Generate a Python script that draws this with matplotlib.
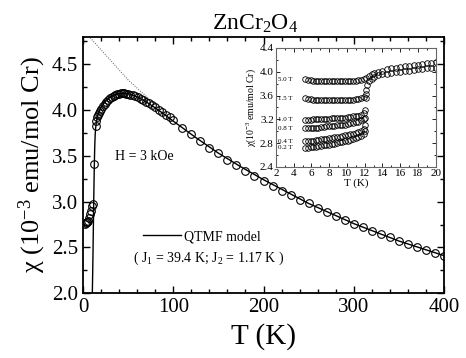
import matplotlib
matplotlib.use('Agg')
import matplotlib.pyplot as plt
from matplotlib.ticker import MultipleLocator

# main curve, H = 3 kOe
t_main = [2, 3, 4, 5, 6, 7, 8, 9, 10, 11, 12.5, 14, 15, 16, 17, 18, 19, 20, 22, 24,
          26, 28, 30, 32, 34, 36, 38, 40, 42, 44, 46, 48, 50, 52, 55, 58, 61, 64, 67, 70,
          73, 76, 80, 84, 88, 92, 96, 100, 110, 120, 130, 140, 150, 160, 170, 180, 190, 200,
          210, 220, 230, 240, 250, 260, 270, 280, 290, 300, 310, 320, 330, 340, 350, 360,
          370, 380, 390, 400]
chi_main = [2.76, 2.77, 2.78, 2.78, 2.79, 2.82, 2.86, 2.90, 2.95, 2.97, 3.41, 3.83, 3.88, 3.92, 3.95, 3.97, 3.99, 4.01, 4.04, 4.07,
            4.09, 4.11, 4.13, 4.145, 4.155, 4.165, 4.175, 4.18, 4.185, 4.185, 4.185, 4.18, 4.175, 4.17, 4.16, 4.15, 4.14, 4.125, 4.11, 4.09,
            4.075, 4.055, 4.03, 4.00, 3.975, 3.95, 3.92, 3.89, 3.81, 3.735, 3.66, 3.59, 3.53, 3.46, 3.40, 3.34, 3.28, 3.23,
            3.175, 3.12, 3.07, 3.02, 2.98, 2.93, 2.89, 2.84, 2.80, 2.76, 2.72, 2.68, 2.65, 2.61, 2.57, 2.54,
            2.51, 2.47, 2.44, 2.41]

# QTMF fit
t_fit = [10.3, 11, 11.5, 12, 12.5, 13, 13.5, 14, 15, 16, 18, 20, 25, 30, 35, 40, 45, 50, 60, 70,
         80, 90, 100, 125, 150, 175, 200, 250, 300, 350, 400]
chi_fit = [1.95, 2.35, 2.7, 3.05, 3.35, 3.58, 3.72, 3.80, 3.88, 3.93, 3.99, 4.03, 4.10, 4.14, 4.165, 4.18, 4.185, 4.18, 4.145, 4.09,
           4.025, 3.955, 3.88, 3.70, 3.53, 3.38, 3.24, 2.98, 2.76, 2.57, 2.41]

# Curie-Weiss line (dotted)
t_cw = [8, 20, 30, 40, 50, 60, 70, 80, 85]
chi_cw = [4.79, 4.66, 4.55, 4.44, 4.33, 4.24, 4.15, 4.06, 4.02]

# inset: low temperature, different fields
t_in = [5.3, 5.6, 5.9, 6.2, 6.5, 6.8, 7.1, 7.4, 7.7, 8.0, 8.3, 8.6, 8.9, 9.2, 9.5, 9.8,
        10.1, 10.4, 10.7, 11.0, 11.3, 11.6, 11.9]
chi_50 = [3.87, 3.86, 3.86, 3.85, 3.85, 3.85, 3.85, 3.85, 3.85, 3.85, 3.85, 3.85, 3.85, 3.85, 3.85, 3.85,
          3.85, 3.85, 3.85, 3.85, 3.86, 3.86, 3.88]
chi_15 = [3.55, 3.54, 3.54, 3.53, 3.53, 3.53, 3.53, 3.53, 3.53, 3.53, 3.53, 3.53, 3.53, 3.53, 3.53, 3.53,
          3.53, 3.53, 3.53, 3.54, 3.54, 3.56, 3.58]
chi_10 = [3.19, 3.19, 3.19, 3.20, 3.20, 3.20, 3.20, 3.21, 3.21, 3.21, 3.22, 3.22, 3.22, 3.23, 3.23, 3.23,
          3.24, 3.24, 3.25, 3.25, 3.26, 3.28, 3.30]
chi_08 = [3.05, 3.05, 3.05, 3.06, 3.06, 3.06, 3.07, 3.07, 3.08, 3.08, 3.09, 3.09, 3.10, 3.10, 3.11, 3.11,
          3.12, 3.13, 3.14, 3.15, 3.16, 3.18, 3.20]
chi_04 = [2.83, 2.83, 2.84, 2.84, 2.85, 2.85, 2.86, 2.87, 2.87, 2.88, 2.89, 2.90, 2.90, 2.91, 2.92, 2.93,
          2.94, 2.95, 2.96, 2.97, 2.99, 3.01, 3.04]
chi_02 = [2.72, 2.72, 2.73, 2.73, 2.74, 2.75, 2.75, 2.76, 2.77, 2.77, 2.78, 2.79, 2.80, 2.81, 2.82, 2.83,
          2.84, 2.85, 2.86, 2.88, 2.90, 2.92, 2.95]
field_labels = ['5.0 T', '1.5 T', '1.0 T', '0.8 T', '0.4 T', '0.2 T']

# merged part above the transition
t_up = [12.2, 12.5, 12.8, 13.1, 13.5, 14, 14.5, 15, 15.5, 16, 16.5, 17, 17.5, 18, 18.5, 19, 19.5, 20]
chi_up = [3.89, 3.93, 3.96, 3.98, 4.00, 4.02, 4.04, 4.06, 4.07, 4.08, 4.09, 4.10, 4.11, 4.12, 4.13, 4.14, 4.15, 4.16]
t_lo = [12.0, 12.0, 12.0, 12.0, 12.1, 12.1, 12.2, 12.3, 12.5, 12.8, 13.1, 13.5, 14, 14.5, 15, 15.5, 16, 16.5,
        17, 17.5, 18, 18.5, 19, 19.5, 20]
chi_lo = [3.00, 3.10, 3.22, 3.35, 3.55, 3.62, 3.70, 3.78, 3.84, 3.88, 3.91, 3.94, 3.96, 3.97, 3.98, 3.99, 4.00, 4.01,
          4.02, 4.03, 4.04, 4.05, 4.06, 4.06, 4.07]

plt.rcParams['font.family'] = 'Liberation Serif'
plt.rcParams['mathtext.fontset'] = 'custom'
plt.rcParams['mathtext.rm'] = 'Liberation Serif'
plt.rcParams['mathtext.it'] = 'Liberation Serif:italic'

fig = plt.figure(figsize=(4.66, 3.58), dpi=100)
ax = fig.add_axes([0.178, 0.181, 0.775, 0.716])

ax.plot(t_fit, chi_fit, color='black', lw=1.0, label='QTMF model')
ax.plot(t_cw, chi_cw, color='#555555', lw=0.7, ls=(0, (1, 1.5)))
ax.plot(t_main, chi_main, 'o', ms=5.5, mfc='none', mec='black', mew=0.8)

ax.set_xlim(0, 400)
ax.set_ylim(2.0, 4.8)
ax.xaxis.set_major_locator(MultipleLocator(100))
ax.xaxis.set_minor_locator(MultipleLocator(20))
ax.yaxis.set_major_locator(MultipleLocator(0.5))
ax.yaxis.set_minor_locator(MultipleLocator(0.25))
ax.tick_params(which='both', direction='in', top=True, right=True, width=1.0)
ax.tick_params(which='major', length=5, labelsize=15)
ax.tick_params(which='minor', length=3)
for s in ax.spines.values():
    s.set_linewidth(1.3)

ax.set_xlabel('T (K)', fontsize=21, labelpad=4)
ax.set_ylabel('χ (10$^{-3}$ emu/mol Cr)', fontsize=19, labelpad=3)
fig.text(0.547, 0.933, 'ZnCr$_2$O$_4$', ha='center', va='center', fontsize=17)

ax.text(36, 3.49, 'H = 3 kOe', fontsize=10, va='center')
ax.legend(loc='center left', bbox_to_anchor=(0.165, 0.221), frameon=False, fontsize=10,
          handlelength=2.8, handletextpad=0.2, borderpad=0, borderaxespad=0)
ax.text(55, 2.38, '( J$_1$ = 39.4 K; J$_2$ = 1.17 K )', fontsize=10, va='center')

# inset
ins = fig.add_axes([0.592, 0.534, 0.343, 0.332])
kw = dict(ls='none', marker='o', ms=4, mfc='none', mec='black', mew=0.6)
for c in [chi_50, chi_15, chi_10, chi_08, chi_04, chi_02]:
    ins.plot(t_in, c, **kw)
ins.plot(t_up, chi_up, **kw)
ins.plot(t_lo, chi_lo, **kw)
for lab, c in zip(field_labels, [chi_50, chi_15, chi_10, chi_08, chi_04, chi_02]):
    ins.text(2.2, c[0], lab, fontsize=5, va='center')

ins.set_xlim(2, 20)
ins.set_ylim(2.4, 4.4)
ins.xaxis.set_major_locator(MultipleLocator(2))
ins.xaxis.set_minor_locator(MultipleLocator(1))
ins.yaxis.set_major_locator(MultipleLocator(0.4))
ins.yaxis.set_minor_locator(MultipleLocator(0.2))
ins.tick_params(which='both', direction='in', top=True, right=True, width=0.6, pad=1.5)
ins.tick_params(which='major', length=3, labelsize=8)
ins.tick_params(which='minor', length=1.5)
for s in ins.spines.values():
    s.set_linewidth(0.8)
    s.set_color('#666666')
ins.set_xlabel('T (K)', fontsize=8, labelpad=0)
ins.set_ylabel('χ(10$^{-3}$ emu/mol Cr)', fontsize=7, labelpad=1)

fig.savefig('out.png', dpi=100)
